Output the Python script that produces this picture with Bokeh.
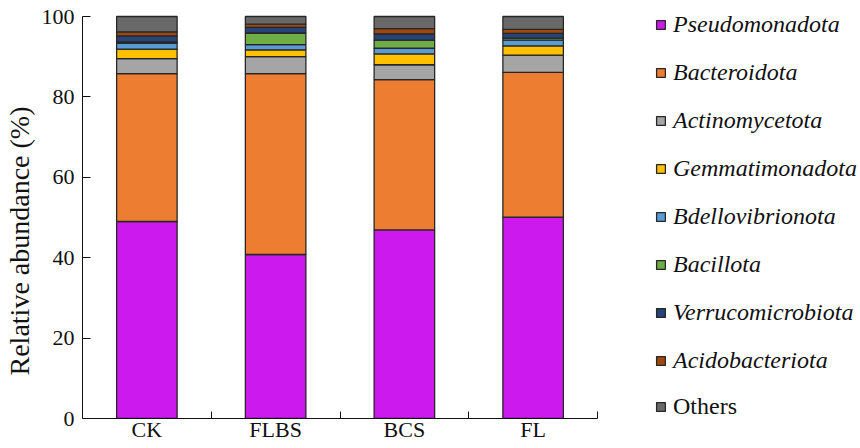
from bokeh.plotting import figure
from bokeh.models import (Range1d, LinearAxis, FixedTicker, Legend,
                          LegendItem, ColumnDataSource)
from bokeh.embed import file_html
from bokeh.resources import INLINE

groups = ["CK", "FLBS", "BCS", "FL"]
phyla = ["Pseudomonadota", "Bacteroidota", "Actinomycetota", "Gemmatimonadota",
         "Bdellovibrionota", "Bacillota", "Verrucomicrobiota", "Acidobacteriota", "Others"]
colors = ["#CC19EE", "#ED7D31", "#A5A5A5", "#FFC000", "#5B9BD5",
          "#70AD47", "#264478", "#9E480E", "#696969"]

Pseudomonadota = [49.0, 40.8, 46.9, 50.1]
Bacteroidota = [36.8, 45.0, 37.4, 36.0]
Actinomycetota = [3.7, 4.2, 3.7, 4.3]
Gemmatimonadota = [2.4, 1.7, 2.7, 2.3]
Bdellovibrionota = [1.5, 1.3, 1.4, 1.4]
Bacillota = [0.3, 2.9, 2.0, 0.5]
Verrucomicrobiota = [1.5, 1.4, 1.6, 1.2]
Acidobacteriota = [1.0, 0.8, 1.3, 1.0]
Others = [3.8, 1.9, 3.0, 3.2]

yticks = [0, 20, 40, 60, 80, 100]

# category slots: each group occupies one unit, label in the middle
centres = [i + 0.5 for i in range(len(groups))]
bounds = [i + 1 for i in range(len(groups))]

data = dict(pos=centres, Pseudomonadota=Pseudomonadota, Bacteroidota=Bacteroidota,
            Actinomycetota=Actinomycetota, Gemmatimonadota=Gemmatimonadota,
            Bdellovibrionota=Bdellovibrionota, Bacillota=Bacillota,
            Verrucomicrobiota=Verrucomicrobiota, Acidobacteriota=Acidobacteriota,
            Others=Others)
src = ColumnDataSource(data)

FONT = "Liberation Serif"

W, H = 860, 448
LEFT, BOTTOM = 82, 30
TOP_GAP = 16  # pixels between canvas top and the 100 % line
FRAME_W = W - LEFT
AXIS_W = 515  # pixel length of the category axis
x_end = len(groups) * FRAME_W / AXIS_W
FRAME_H = H - BOTTOM
y_end = 100 * FRAME_H / (FRAME_H - TOP_GAP)

p = figure(width=W, height=H, x_range=Range1d(0, x_end),
           y_range=Range1d(0, y_end), x_axis_type=None, y_axis_type=None,
           output_backend="svg", toolbar_location=None,
           min_border_left=LEFT, min_border_right=0, min_border_top=0,
           min_border_bottom=BOTTOM)
p.outline_line_color = None
p.xgrid.visible = False
p.ygrid.visible = False

renderers = p.vbar_stack(phyla, x="pos", width=0.47, color=colors, source=src,
                         line_color="#262626", line_width=1.3)

# y axis
yax = LinearAxis(ticker=FixedTicker(ticks=yticks, minor_ticks=[]), bounds=(0, 100))
yax.major_tick_in = 8
yax.major_tick_out = 0
yax.major_label_standoff = 8
yax.major_label_text_font = FONT
yax.major_label_text_font_size = "22px"
yax.major_label_text_color = "#111111"
yax.axis_label = "Relative abundance (%)" + "\u00a0" * 9
yax.axis_label_text_font = FONT
yax.axis_label_text_font_style = "normal"
yax.axis_label_text_font_size = "28px"
yax.axis_label_text_color = "#111111"
yax.axis_label_standoff = 4
yax.axis_line_color = "#111111"
yax.major_tick_line_color = "#111111"
p.add_layout(yax, "left")

# x axis: labels at group centres, ticks at group boundaries
xax = LinearAxis(ticker=FixedTicker(ticks=centres, minor_ticks=bounds),
                 bounds=(0, len(groups)))
xax.major_label_overrides = {c: g for c, g in zip(centres, groups)}
xax.major_tick_line_color = None
xax.minor_tick_in = 7
xax.minor_tick_out = 0
xax.minor_tick_line_color = "#111111"
xax.axis_line_color = "#111111"
xax.major_label_standoff = -8
xax.major_label_text_font = FONT
xax.major_label_text_font_size = "22px"
xax.major_label_text_color = "#111111"
p.add_layout(xax, "below")

common = dict(glyph_width=11, glyph_height=11, label_height=24, spacing=21, padding=0,
              label_standoff=7, border_line_alpha=0, background_fill_alpha=0,
              label_text_font=FONT, label_text_font_size="24px",
              label_text_color="#111111", margin=0)
leg1 = Legend(items=[LegendItem(label=ph, renderers=[r]) for ph, r in zip(phyla[:-1], renderers[:-1])],
              location=(573, 44), label_text_font_style="italic", **common)
leg2 = Legend(items=[LegendItem(label=phyla[-1], renderers=[renderers[-1]])],
              location=(573, -2), label_text_font_style="normal", **common)
p.add_layout(leg1, "center")
p.add_layout(leg2, "center")

open("out.html", "w").write(file_html(p, INLINE))
